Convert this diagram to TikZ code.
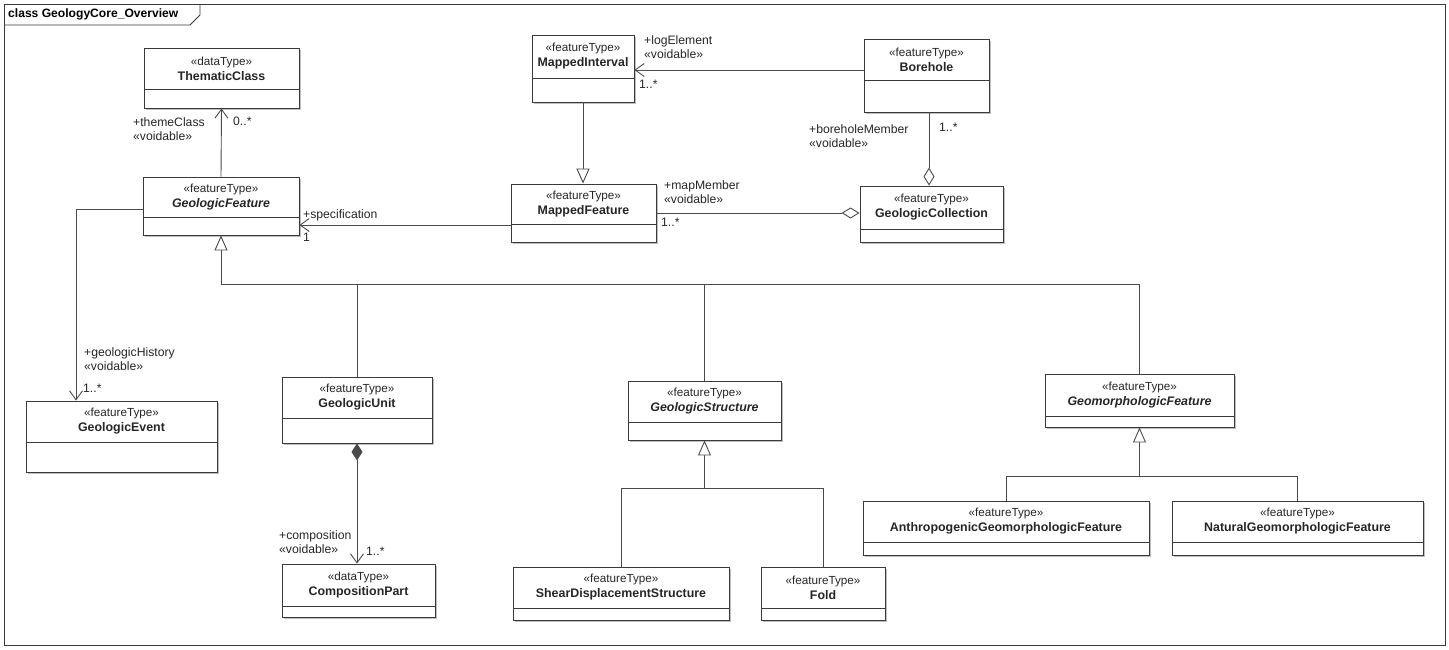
\documentclass[tikz,border=0pt]{standalone}
\usepackage{fontspec}
\setmainfont{Liberation Sans}
\usetikzlibrary{arrows.meta,shadows,fit}
\definecolor{boxcol}{HTML}{3A3A3A}
\definecolor{linecol}{HTML}{4A4A4A}
\newcommand\UMLbox[8]{%
  \node[clsbox, fit={(#2,#3) (#4,#5)}] (#1) {};
  \draw[clsline] (#2,#6) -- (#4,#6);
  \node[clstext] (#1-t) at ({(#2+#4)/2},{(#3+#6)/2}) {#7\\{\fontsize{12.4}{15}\selectfont\bfseries #8}};
}
\tikzset{
  clsbox/.style={draw=boxcol, line width=0.9pt, fill=white, inner sep=0pt,
    drop shadow={shadow xshift=2pt, shadow yshift=-2pt, fill=black!25, opacity=1}},
  clsline/.style={draw=boxcol, line width=0.9pt},
  clstext/.style={align=center, inner sep=0pt, text=black!85, font=\fontsize{11.7}{15}\selectfont},
  conn/.style={draw=linecol, line width=0.9pt},
  assoc/.style={conn, -{Straight Barb[length=9pt,width=13pt,line width=0.9pt]}},
  gen/.style={conn, -{Triangle[length=15pt,width=13pt,fill=white,line width=0.9pt]}},
  agg/.style={conn, {Diamond[length=18pt,width=11pt,fill=white,line width=0.9pt]}-},
  comp/.style={conn, {Diamond[length=17pt,width=11pt,fill=linecol]}-{Straight Barb[length=9pt,width=13pt,line width=0.9pt]}},
  lbl/.style={anchor=north west, inner sep=0pt, align=left, text=black!85, font=\fontsize{12.2}{14.5}\selectfont},
}
\begin{document}
\begin{tikzpicture}[x=1pt,y=-1pt]
\useasboundingbox (0,0) rectangle (1449,650);
% frame
\draw[draw=boxcol, line width=0.9pt] (4,4) rectangle (1445,645);
\draw[draw=boxcol, line width=0.9pt] (4,25) -- (190,25) -- (200,15) -- (200,4);
\node[anchor=west, inner sep=0pt, font=\fontsize{12.1}{14}\selectfont\bfseries] (title) at (8,14.5) {class GeologyCore\_Overview};

% classes
\UMLbox{tc}{144}{48}{299}{108}{89}{«dataType»}{ThematicClass}
\UMLbox{gf}{143}{177}{299}{235}{217}{«featureType»}{\itshape GeologicFeature}
\UMLbox{mi}{532}{35}{634}{102}{78}{«featureType»}{MappedInterval}
\UMLbox{bh}{864}{39}{989}{112}{80}{«featureType»}{Borehole}
\UMLbox{mf}{511}{184}{656}{242}{224}{«featureType»}{MappedFeature}
\UMLbox{gc}{860}{186}{1003}{242}{229}{«featureType»}{GeologicCollection}
\UMLbox{ge}{26}{401}{217}{472}{442}{«featureType»}{GeologicEvent}
\UMLbox{gu}{282}{377}{432}{443}{418}{«featureType»}{GeologicUnit}
\UMLbox{cp}{282}{564}{435}{617}{606}{«dataType»}{CompositionPart}
\UMLbox{gs}{628}{381}{781}{440}{422}{«featureType»}{\itshape GeologicStructure}
\UMLbox{sd}{513}{567}{729}{620}{608}{«featureType»}{ShearDisplacementStructure}
\UMLbox{fo}{761}{567}{885}{620}{608}{«featureType»}{Fold}
\UMLbox{gm}{1045}{374}{1234}{427}{416}{«featureType»}{\itshape GeomorphologicFeature}
\UMLbox{ag}{863}{501}{1149}{555}{542}{«featureType»}{AnthropogenicGeomorphologicFeature}
\UMLbox{ng}{1172}{501}{1423}{555}{542}{«featureType»}{NaturalGeomorphologicFeature}

% associations
\draw[assoc] (gf.north) -- (tc.south);
\coordinate (miE) at ([yshift=-1.5pt]mi.east);
\draw[assoc] (miE -| bh.west) -- (miE);
\draw[gen] (mi.south) -- (mi.south |- mf.north);
\draw[agg] (gc.west |- mf.east) -- (mf.east);
\coordinate (bhx) at (929,0);
\draw[agg] (gc.north -| bhx) -- (bh.south -| bhx);
\coordinate (mfS) at ([yshift=-12pt]mf.west);
\draw[assoc] (mfS) -- (mfS -| gf.east);
\coordinate (geBend) at (76,209);
\draw[assoc] (gf.west |- geBend) -- (geBend) -- (geBend |- ge.north);
\draw[comp] (gu.south) -- (gu.south |- cp.north);

% generalization buses
\coordinate (bus1) at (0,284);
\draw[conn] (gf.south |- bus1) -- (gm.north |- bus1) -- (gm.north);
\draw[conn] (gu.north) -- (gu.north |- bus1);
\draw[conn] (gs.north) -- (gs.north |- bus1);
\draw[gen] (gf.south |- bus1) -- (gf.south);
\coordinate (bus2) at (0,488);
\draw[conn] (sd.north) -- (sd.north |- bus2) -- (fo.north |- bus2) -- (fo.north);
\draw[gen] (gs.south |- bus2) -- (gs.south);
\coordinate (bus3) at (0,476);
\draw[conn] (ag.north) -- (ag.north |- bus3) -- (ng.north |- bus3) -- (ng.north);
\draw[gen] (gm.south |- bus3) -- (gm.south);

% role labels
\node[lbl] (l1) at (133,117) {+themeClass\\«voidable»};
\node[lbl] (l2) at (233,117) {0..*};
\node[lbl] (l3) at (303,209) {+specification};
\node[lbl] (l4) at (303,233) {1};
\node[lbl] (l5) at (644,35) {+logElement\\«voidable»};
\node[lbl] (l6) at (639,80) {1..*};
\node[lbl] (l7) at (809,124) {+boreholeMember\\«voidable»};
\node[lbl] (l8) at (939,123) {1..*};
\node[lbl] (l9) at (664,180) {+mapMember\\«voidable»};
\node[lbl] (l10) at (661,218) {1..*};
\node[lbl] (l11) at (84,347) {+geologicHistory\\«voidable»};
\node[lbl] (l12) at (83,384) {1..*};
\node[lbl] (l13) at (279,530) {+composition\\«voidable»};
\node[lbl] (l14) at (366,547) {1..*};
\end{tikzpicture}
\end{document}
